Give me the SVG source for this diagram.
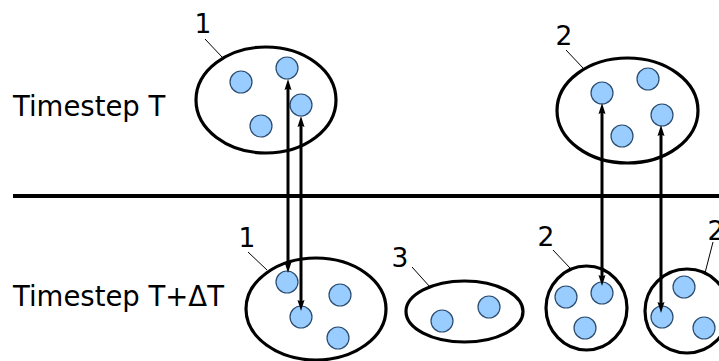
<svg xmlns="http://www.w3.org/2000/svg" width="719" height="361" viewBox="0 0 719 361">
<style>
.grp{fill:none;stroke:#000;stroke-width:3.2}
.p{fill:#99ccff;stroke:#2b4c6f;stroke-width:1.2}
.lbl{font-family:"DejaVu Sans",sans-serif;font-size:26.5px;fill:#000}
.ts{font-family:"DejaVu Sans",sans-serif;font-size:27.5px;fill:#000}
.lead{stroke:#000;stroke-width:1;fill:none}
.arr{stroke:#000;stroke-width:3;fill:none;marker-start:url(#ah);marker-end:url(#ah)}
</style>
<defs>
<marker id="ah" markerUnits="userSpaceOnUse" viewBox="0 -4 11 8" refX="4" refY="0" markerWidth="11" markerHeight="8" orient="auto-start-reverse">
<path d="M0,-3.5 L11,0 L0,3.5 L1.5,0 z" fill="#000"/>
</marker>
</defs>
<rect width="719" height="361" fill="#fff"/>
<text class="ts" x="13" y="116">Timestep T</text>
<text class="ts" x="13" y="306">Timestep T+ΔT</text>
<line x1="13" y1="196" x2="719" y2="196" stroke="#000" stroke-width="4"/>
<g id="top1">
<ellipse class="grp" cx="266" cy="100" rx="70" ry="53"/>
<circle class="p" cx="241" cy="82" r="11"/>
<circle class="p" cx="287" cy="68" r="11"/>
<circle class="p" cx="301" cy="105" r="11"/>
<circle class="p" cx="261" cy="126" r="11"/>
<text class="lbl" x="203" y="33" text-anchor="middle">1</text>
<line class="lead" x1="205" y1="39" x2="222" y2="57"/>
</g>
<g id="top2">
<ellipse class="grp" cx="627.5" cy="110.5" rx="70.5" ry="52.5"/>
<circle class="p" cx="602" cy="93" r="11"/>
<circle class="p" cx="648" cy="79" r="11"/>
<circle class="p" cx="662" cy="115" r="11"/>
<circle class="p" cx="622" cy="136" r="11"/>
<text class="lbl" x="564" y="45" text-anchor="middle">2</text>
<line class="lead" x1="566" y1="50" x2="583" y2="68"/>
</g>
<g id="bot1">
<ellipse class="grp" cx="316" cy="309" rx="70" ry="51"/>
<circle class="p" cx="287" cy="282" r="11"/>
<circle class="p" cx="301" cy="317" r="11"/>
<circle class="p" cx="340" cy="295" r="11"/>
<circle class="p" cx="338" cy="338" r="11"/>
<text class="lbl" x="247" y="247" text-anchor="middle">1</text>
<line class="lead" x1="248" y1="252" x2="267" y2="270"/>
</g>
<g id="bot3">
<ellipse class="grp" cx="464.5" cy="311.5" rx="58.5" ry="30.5"/>
<circle class="p" cx="442" cy="321" r="11"/>
<circle class="p" cx="489" cy="307" r="11"/>
<text class="lbl" x="400" y="267" text-anchor="middle">3</text>
<line class="lead" x1="412" y1="267" x2="430" y2="287"/>
</g>
<g id="bot2a">
<ellipse class="grp" cx="586.5" cy="308" rx="40.5" ry="42"/>
<circle class="p" cx="566" cy="297" r="11"/>
<circle class="p" cx="602" cy="293" r="11"/>
<circle class="p" cx="585" cy="328" r="11"/>
<text class="lbl" x="546" y="246" text-anchor="middle">2</text>
<line class="lead" x1="553" y1="250" x2="570" y2="268"/>
</g>
<g id="bot2b">
<ellipse class="grp" cx="687" cy="311" rx="42" ry="42"/>
<circle class="p" cx="684" cy="287" r="11"/>
<circle class="p" cx="662" cy="317" r="11"/>
<circle class="p" cx="704" cy="328" r="11"/>
<text class="lbl" x="716" y="240" text-anchor="middle">2</text>
<line class="lead" x1="713" y1="242" x2="705" y2="273"/>
</g>
<g id="connectors">
<line class="arr" x1="288" y1="86" x2="288" y2="266"/>
<line class="arr" x1="301" y1="123" x2="301" y2="304"/>
<line class="arr" x1="602" y1="110" x2="602" y2="279"/>
<line class="arr" x1="661" y1="132" x2="661" y2="306"/>
</g>
</svg>
